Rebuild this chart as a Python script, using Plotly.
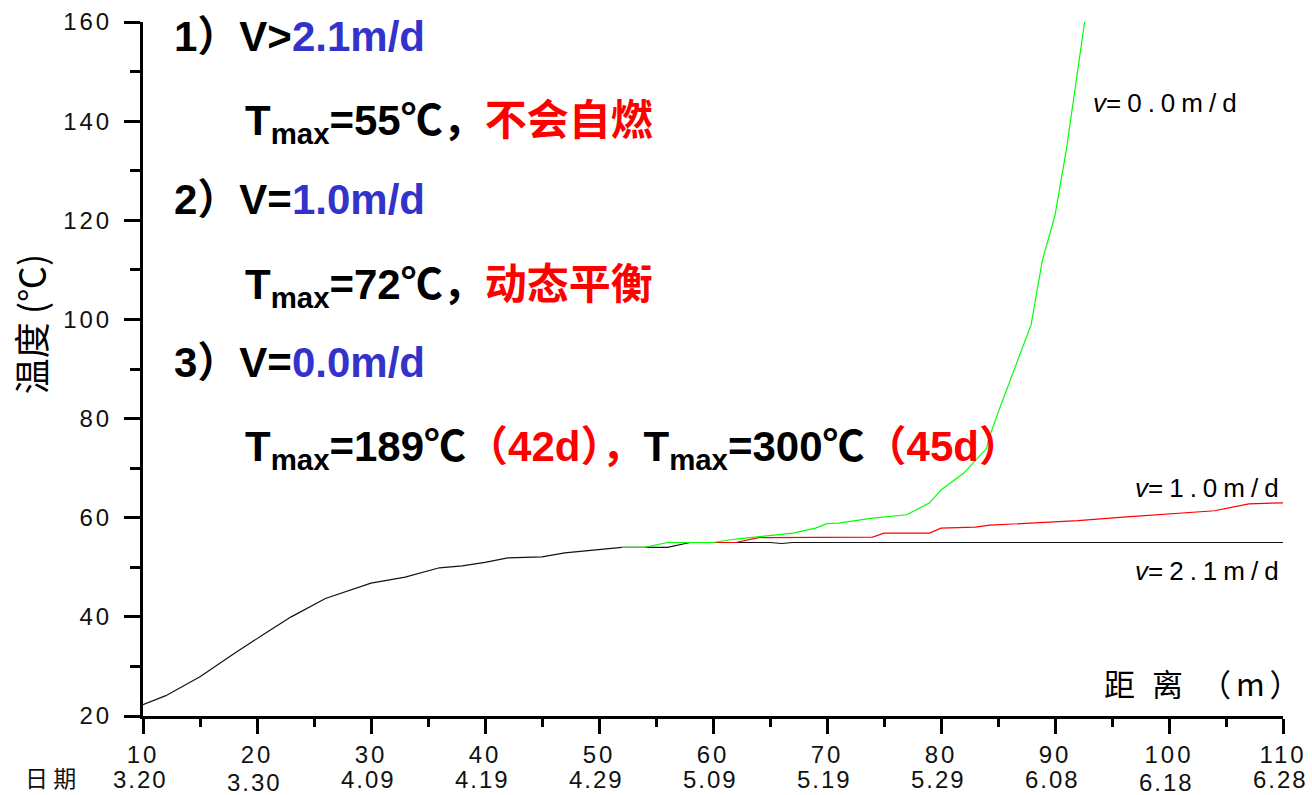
import plotly.graph_objects as go

# ---- data ----
x_v21 = [10, 12, 15, 18, 21, 23, 26, 30, 33, 36, 38, 40, 42, 45, 47, 51, 52, 56, 58, 65, 66, 67, 110]
y_v21 = [22.3, 24.1, 27.9, 32.6, 37.1, 40.0, 43.7, 46.8, 48.0, 49.9, 50.3, 51.0, 51.9, 52.1, 52.9, 53.9, 54.0, 54.0, 55.0, 55.0, 54.8, 55.0, 55.0]

x_v10 = [60, 62, 64, 74, 75, 79, 80, 83, 84.3, 88, 90, 92, 96, 104, 107, 110]
y_v10 = [55.0, 55.0, 56.0, 56.1, 56.9, 56.9, 57.9, 58.1, 58.5, 58.9, 59.2, 59.4, 60.1, 61.4, 62.8, 63.0]

x_v00 = [52, 54, 56, 60, 62, 67, 69, 70, 71, 74, 77, 79, 80, 82, 84, 84.2, 85.2, 87.9, 88.9, 90.0, 91.0, 91.9, 92.6]
y_v00 = [54.0, 54.0, 55.0, 55.0, 55.7, 56.9, 57.9, 58.8, 58.9, 59.9, 60.6, 63.0, 65.6, 69.0, 74.0, 76.0, 82.4, 98.9, 112.0, 121.0, 134.3, 148.3, 160.0]

x_ticks = [10, 20, 30, 40, 50, 60, 70, 80, 90, 100, 110]
y_ticks = [20, 40, 60, 80, 100, 120, 140, 160]
date_labels = ["3.20", "3.30", "4.09", "4.19", "4.29", "5.09", "5.19", "5.29", "6.08", "6.18", "6.28"]
date_drop = [0, 3, 0, 0, 0, 0, 0, 0, 0, 3, 0]   # pixel drop (style)

LAT = "Liberation Sans, Arial, sans-serif"
CJK = "Noto Sans CJK SC, Liberation Sans, sans-serif"
BOLD = "Liberation Sans, Noto Sans CJK SC, Arial, sans-serif"
BLUE = "#3333CC"
RED = "#FF0000"


def spaced(s, px):
    return f"<span style='letter-spacing:{px}px'>{s}</span>"


fig = go.Figure()
fig.add_trace(go.Scatter(x=x_v21, y=y_v21, mode="lines", line=dict(color="#111111", width=1.2), showlegend=False))
fig.add_trace(go.Scatter(x=x_v10, y=y_v10, mode="lines", line=dict(color="#FF0000", width=1.2), showlegend=False))
fig.add_trace(go.Scatter(x=x_v00, y=y_v00, mode="lines", line=dict(color="#00FF00", width=1.2), showlegend=False))

fig.update_layout(
    width=1312, height=795,
    margin=dict(l=143, r=29, t=22, b=79, autoexpand=False),
    paper_bgcolor="white", plot_bgcolor="white",
    showlegend=False,
    xaxis=dict(
        range=[10, 110], tickmode="array", tickvals=x_ticks,
        ticktext=[spaced(str(v), 3) for v in x_ticks],
        ticks="outside", ticklen=15, tickwidth=3, tickcolor="black",
        showline=True, linewidth=3, linecolor="black", mirror=False,
        showgrid=False, zeroline=False, automargin=False,
        tickfont=dict(family=LAT, size=24, color="#111"),
        minor=dict(dtick=5, tick0=5, ticks="outside", ticklen=8, tickwidth=3, tickcolor="black", showgrid=False),
    ),
    yaxis=dict(
        range=[20, 160], tickmode="array", tickvals=y_ticks,
        ticktext=[spaced(str(v), 3) for v in y_ticks],
        ticks="outside", ticklen=16, tickwidth=3, tickcolor="black",
        showline=True, linewidth=3, linecolor="black", mirror=False,
        showgrid=False, zeroline=False, automargin=False, ticklabelstandoff=7,
        tickfont=dict(family=LAT, size=24, color="#111"),
        minor=dict(dtick=10, tick0=0, ticks="outside", ticklen=10, tickwidth=3, tickcolor="black", showgrid=False),
    ),
)

ann = []
# curve labels
ann.append(dict(x=93.2, y=143.6, xref="x", yref="y", text="<i>v</i>" + spaced("=0.0m/d", 6), showarrow=False,
                xanchor="left", yanchor="middle", font=dict(family=LAT, size=26, color="black")))
ann.append(dict(x=110, y=66.0, xref="x", yref="y", text="<i>v</i>" + spaced("=1.0m/d", 6), showarrow=False,
                xanchor="right", yanchor="middle", xshift=4, font=dict(family=LAT, size=26, color="black")))
ann.append(dict(x=110, y=49.2, xref="x", yref="y", text="<i>v</i>" + spaced("=2.1m/d", 6), showarrow=False,
                xanchor="right", yanchor="middle", xshift=4, font=dict(family=LAT, size=26, color="black")))

# axis titles
ann.append(dict(x=1, y=(716 - 682) / 694, xref="paper", yref="paper", text=spaced("距 离 （m）", 5), showarrow=False,
                xanchor="right", yanchor="middle", xshift=25, font=dict(family=CJK, size=31, color="black")))
ann.append(dict(x=-0.099, y=(716 - 324) / 694, xref="paper", yref="paper", text="温度 (℃)", showarrow=False,
                textangle=-90, xanchor="center", yanchor="middle", font=dict(family=CJK, size=36, color="black")))

# date row
for xv, lab, dp in zip(x_ticks, date_labels, date_drop):
    ann.append(dict(x=xv, y=(716 - 779 - dp) / 694, xref="x", yref="paper", text=spaced(lab, 2), showarrow=False,
                    xanchor="center", yanchor="middle", xshift=-3, font=dict(family=LAT, size=24, color="#111")))
ann.append(dict(x=(50 - 143) / 1140, y=(716 - 777) / 694, xref="paper", yref="paper", text="日 期", showarrow=False,
                xanchor="center", yanchor="middle", font=dict(family=CJK, size=23, color="#111")))


# text block
def blk(xp, yp, txt):
    ann.append(dict(x=(xp - 143) / 1140, y=(716 - yp) / 694, xref="paper", yref="paper", text=txt,
                    showarrow=False, xanchor="left", yanchor="middle", align="left",
                    font=dict(family=BOLD, size=42, color="black")))


blk(172, 36, f"<b>1）V><span style='color:{BLUE}'>2.1m/d</span></b>")
blk(243, 123, f"<b>T<sub>max</sub>=55℃，<span style='color:{RED}'>不会自燃</span></b>")
blk(172, 200, f"<b>2）V=<span style='color:{BLUE}'>1.0m/d</span></b>")
blk(243, 287, f"<b>T<sub>max</sub>=72℃，<span style='color:{RED}'>动态平衡</span></b>")
blk(172, 362, f"<b>3）V=<span style='color:{BLUE}'>0.0m/d</span></b>")
blk(243, 449, f"<b>T<sub>max</sub>=189℃<span style='color:{RED}'>（42d），</span>T<sub>max</sub>=300℃<span style='color:{RED}'>（45d）</span></b>")

fig.update_layout(annotations=ann)
fig.write_html("out.html")
